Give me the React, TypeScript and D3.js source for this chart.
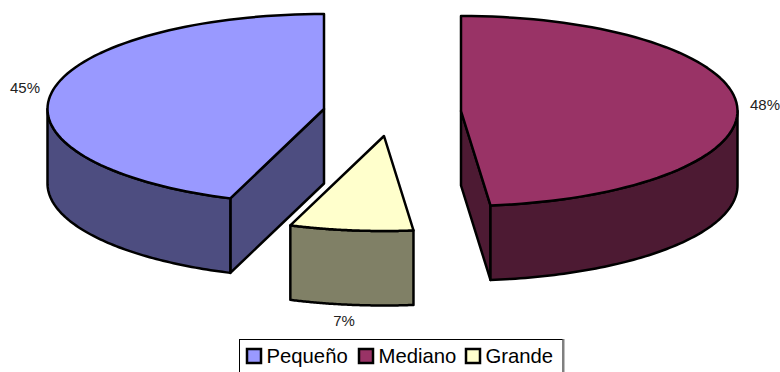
import React from "react";
import * as d3 from "d3";

// Share of each size class, in percent
const categories = ["Pequeño", "Mediano", "Grande"];
const shares = [44.5, 48.3, 7.2];
const topColors = ["#9999ff", "#993366", "#ffffcc"];
const wallColors = ["#4d4d80", "#4d1a33", "#808066"];

const width = 780;
const height = 372;
const radiusX = 276.5;
const radiusY = 95;
const depth = 74.5;
const TAU = Math.PI * 2;

// Apex of each exploded wedge on the page
const apexX = [324, 461, 384];
const apexY = [109, 111, 136];
const labelX = [25, 765, 344];
const labelY = [93, 110, 326];

// The first wedge ends at twelve o'clock, so the pie starts one wedge before it
const firstShare = shares[0] / d3.sum(shares);
const slices = d3
  .pie<number>()
  .sort(null)
  .startAngle(-firstShare * TAU)
  .endAngle(TAU - firstShare * TAU)(shares);

const line = d3.line<[number, number]>().curve(d3.curveLinear);

function arcPoints(cx: number, cy: number, a0: number, a1: number): [number, number][] {
  const t = d3.scaleLinear().domain([0, 80]).range([a0, a1]);
  return d3.range(0, 81).map((i) => [
    cx + radiusX * Math.sin(t(i)),
    cy - radiusY * Math.cos(t(i)),
  ]);
}

// Wrap an angle into the [0, 2π) turn used for the wedge layout
const wrap = (a: number) => ((a % TAU) + TAU) % TAU;

export default function App() {
  const wedges = slices.map((s, i) => {
    const cx = apexX[i];
    const cy = apexY[i];
    const start = wrap(s.startAngle);
    const end = start + (s.endAngle - s.startAngle);
    const rim = arcPoints(cx, cy, start, end);
    const top = line([[cx, cy], ...rim])! + "Z";

    // The outer wall only shows on the front half of the ellipse
    const a0 = Math.max(start, Math.PI / 2);
    const a1 = Math.min(end, (3 * Math.PI) / 2);
    const frontRim = a1 > a0 ? arcPoints(cx, cy, a0, a1) : [];
    const wall = frontRim.length
      ? line([...frontRim, ...frontRim.map(([x, y]) => [x, y + depth] as [number, number]).reverse()])! + "Z"
      : null;

    // Cut faces turned toward the viewer
    const cuts: string[] = [];
    const faces = (a: number) => {
      const [p] = arcPoints(cx, cy, a, a);
      return line([[cx, cy], p, [p[0], p[1] + depth], [cx, cy + depth]])! + "Z";
    };
    if (i === 0) cuts.push(faces(start));
    if (i === 1) cuts.push(faces(end));

    return { i, top, wall, cuts };
  });

  const legendX = d3.scaleOrdinal<string, number>().domain(categories).range([247, 359, 466]);

  return (
    <svg
      width={width}
      height={height}
      viewBox={`0 0 ${width} ${height}`}
      style={{ position: "absolute", left: 0, top: 0, background: "#fff" }}
    >
      {wedges.map((w) => (
        <g key={w.i} stroke="#000" strokeWidth={2.5} strokeLinejoin="round">
          {w.cuts.map((d, k) => (
            <path key={k} d={d} fill={wallColors[w.i]} />
          ))}
          {w.wall && <path d={w.wall} fill={wallColors[w.i]} />}
          <path d={w.top} fill={topColors[w.i]} />
        </g>
      ))}

      {slices.map((s, i) => (
        <text
          key={i}
          x={labelX[i]}
          y={labelY[i]}
          textAnchor="middle"
          fontFamily="Liberation Sans"
          fontSize={15}
          fill="#222"
        >
          {`${Math.round(s.data)}%`}
        </text>
      ))}

      <rect x={239.5} y={339.5} width={323.5} height={33} fill="#fff" stroke="#000" strokeWidth={1} />
      <line x1={563.5} x2={563.5} y1={339} y2={372} stroke="#808080" strokeWidth={2} />
      {categories.map((c, i) => (
        <g key={c}>
          <rect
            x={legendX(c)}
            y={349}
            width={14}
            height={14}
            fill={topColors[i]}
            stroke="#000"
            strokeWidth={2.5}
          />
          <text x={legendX(c) + 19.5} y={363} fontFamily="Liberation Sans" fontSize={20.3} fill="#000">
            {c}
          </text>
        </g>
      ))}
    </svg>
  );
}
